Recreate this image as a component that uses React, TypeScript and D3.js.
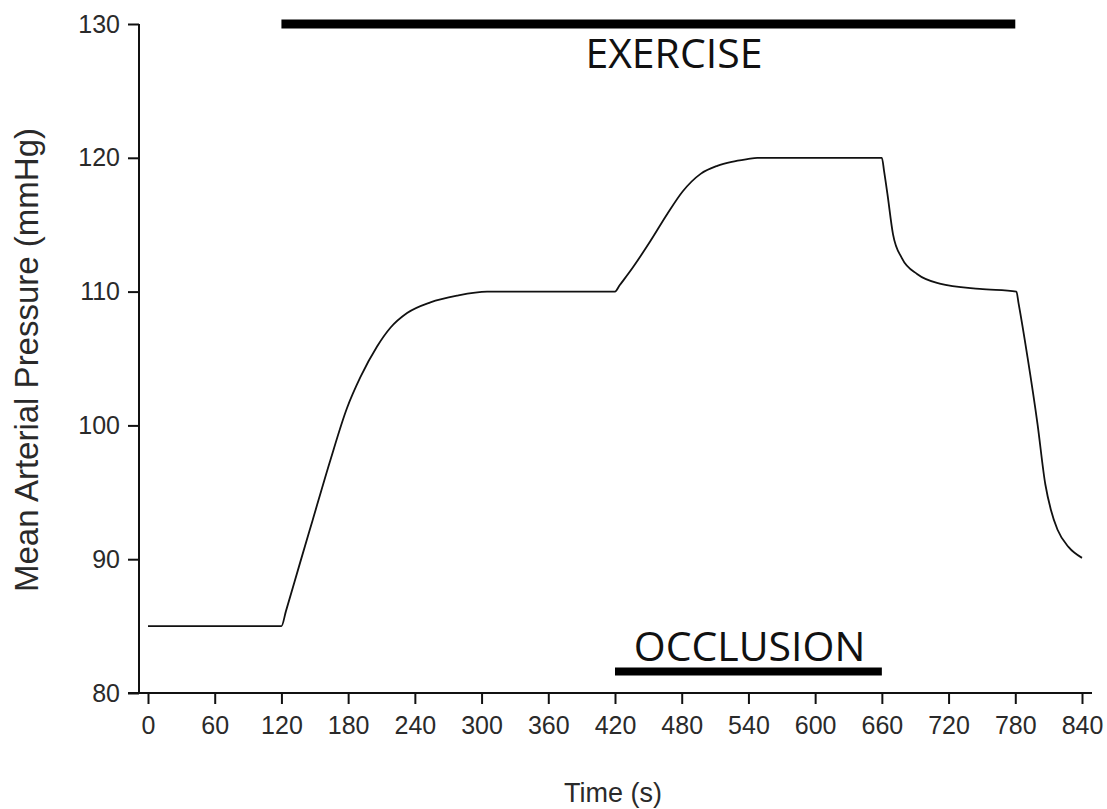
import { useEffect, useRef } from "react";
import * as d3 from "d3";

// time (s) and mean arterial pressure (mmHg)
const timeSec = [0, 120, 124, 137, 148, 164, 179, 191, 206, 218, 233, 254, 278, 305, 420, 424, 436, 452, 467, 481, 497, 512, 525, 539, 548, 660, 662, 665, 670, 678, 692, 712, 748, 781, 783, 791, 800, 807, 812, 818, 828, 840];
const mapValues = [85, 85, 86.1, 89.8, 92.9, 97.4, 101.3, 103.6, 105.9, 107.3, 108.4, 109.2, 109.7, 110, 110, 110.45, 111.8, 113.8, 115.8, 117.5, 118.8, 119.4, 119.7, 119.9, 120, 120, 119, 117.3, 114.3, 112.5, 111.3, 110.6, 110.2, 110, 109.1, 105.1, 100.1, 95.6, 93.7, 92.2, 90.9, 90.1];

const xTicks = [0, 60, 120, 180, 240, 300, 360, 420, 480, 540, 600, 660, 720, 780, 840];
const yTicks = [80, 90, 100, 110, 120, 130];

// protocol bars: [start, end] in seconds
const exerciseSpan = [120, 780];
const occlusionSpan = [420, 660];

const W = 1107;
const H = 809;

export default function App() {
  const xAxisRef = useRef<SVGGElement>(null);
  const yAxisRef = useRef<SVGGElement>(null);

  const x = d3.scaleLinear().domain([0, 840]).range([148, 1082]);
  const y = d3.scaleLinear().domain([80, 130]).range([693, 24]);

  const points = timeSec.map((t, i) => [t, mapValues[i]] as [number, number]);
  const line = d3.line<[number, number]>()
    .x(d => x(d[0]))
    .y(d => y(d[1]))
    .curve(d3.curveMonotoneX);

  useEffect(() => {
    const gx = d3.select(xAxisRef.current);
    gx.call(d3.axisBottom(x).tickValues(xTicks).tickSize(11).tickSizeOuter(0).tickPadding(12).tickFormat(d3.format("d")) as any);
    gx.select(".domain").remove();
    gx.selectAll("line").attr("stroke", "#111").attr("stroke-width", 2);
    gx.selectAll("text").attr("font-size", 25).attr("font-family", "Liberation Sans, Arial, sans-serif").attr("fill", "#2a2a2a");

    const gy = d3.select(yAxisRef.current);
    gy.call(d3.axisLeft(y).tickValues(yTicks).tickSize(11).tickSizeOuter(0).tickPadding(8).tickFormat(d3.format("d")) as any);
    gy.select(".domain").remove();
    gy.selectAll("line").attr("stroke", "#111").attr("stroke-width", 2);
    gy.selectAll("text").attr("font-size", 25).attr("font-family", "Liberation Sans, Arial, sans-serif").attr("fill", "#2a2a2a");

    return () => {
      gx.selectAll("*").remove();
      gy.selectAll("*").remove();
    };
  }, []);

  const exY = y(130);
  const ocY = y(81.6);

  return (
    <svg width={W} height={H} style={{ position: "absolute", left: 0, top: 0, background: "#fff" }}>
      {/* axis lines */}
      <line x1={139} x2={139} y1={y(130)} y2={y(80)} stroke="#111" strokeWidth={2} />
      <line x1={128} x2={1092} y1={y(80)} y2={y(80)} stroke="#111" strokeWidth={2} />
      <g ref={yAxisRef} transform="translate(139,0)" />
      <g ref={xAxisRef} transform={`translate(0,${y(80)})`} />

      <path d={line(points) ?? ""} fill="none" stroke="#111" strokeWidth={1.8} strokeLinejoin="round" />

      {/* exercise bar */}
      <line x1={x(exerciseSpan[0])} x2={x(exerciseSpan[1])} y1={exY} y2={exY} stroke="#000" strokeWidth={9} />
      <text x={x(473)} y={exY + 44} textAnchor="middle" fontFamily="Open Sans, Noto Sans, sans-serif" fontSize={41} fill="#111">EXERCISE</text>

      {/* occlusion bar */}
      <line x1={x(occlusionSpan[0])} x2={x(occlusionSpan[1])} y1={ocY} y2={ocY} stroke="#000" strokeWidth={8} />
      <text x={x(541)} y={ocY - 11} textAnchor="middle" fontFamily="Open Sans, Noto Sans, sans-serif" fontSize={41} fill="#111">OCCLUSION</text>

      <text x={613} y={802} textAnchor="middle" fontFamily="Liberation Sans, Arial, sans-serif" fontSize={27} fill="#2a2a2a">Time (s)</text>
      <text transform={`translate(38,${360}) rotate(-90)`} textAnchor="middle" fontFamily="Liberation Sans, Arial, sans-serif" fontSize={33} fill="#2a2a2a">Mean Arterial Pressure (mmHg)</text>
    </svg>
  );
}
